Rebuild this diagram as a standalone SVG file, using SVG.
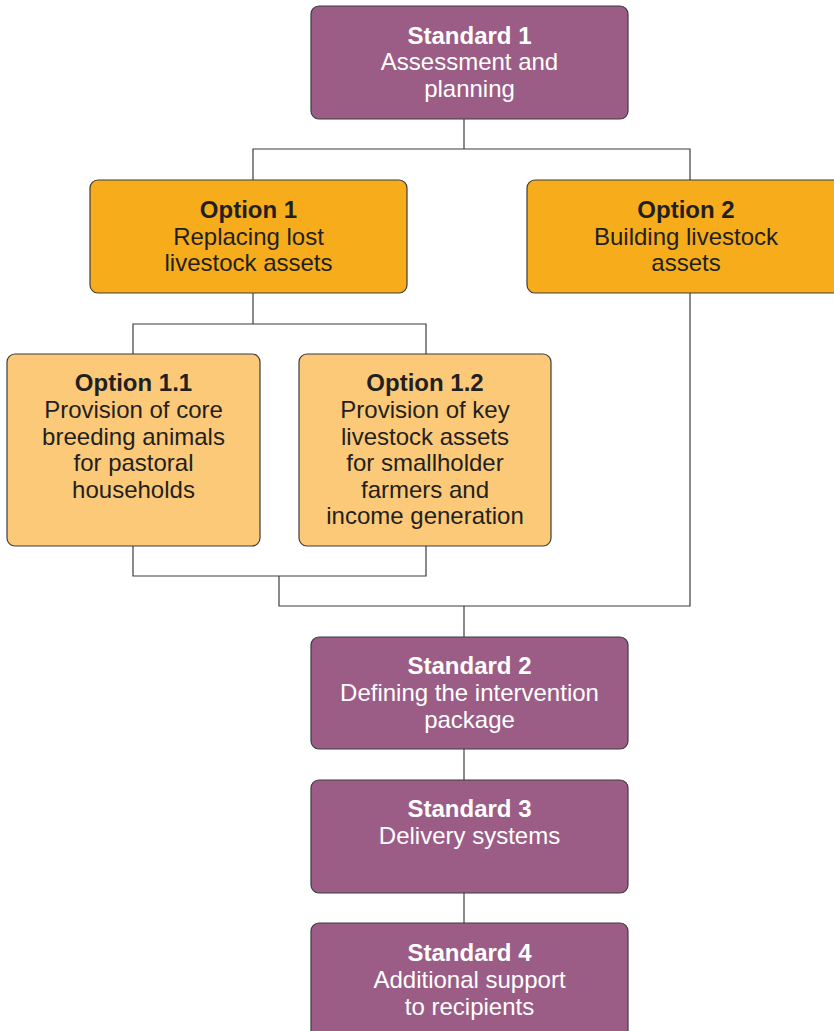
<svg xmlns="http://www.w3.org/2000/svg" width="834" height="1031" viewBox="0 0 834 1031">
<style>
.box{stroke:#3d3d3d;stroke-width:1.2}
.std{fill:#9b5d86}
.opt{fill:#f7ac1b}
.sub{fill:#fcc978}
text{font-size:24px;text-anchor:middle}
.w{fill:#ffffff}
.d{fill:#231f20}
.b{font-weight:bold}
.conn{fill:none;stroke:#3d3d3d;stroke-width:1.2}
</style>
<g id="connectors">
<polyline class="conn" points="464,119 464,149"/>
<polyline class="conn" points="253,180 253,149 690,149 690,180"/>
<polyline class="conn" points="253,293 253,324"/>
<polyline class="conn" points="133,354 133,324 426,324 426,354"/>
<polyline class="conn" points="133,546 133,576 426,576 426,546"/>
<polyline class="conn" points="279,576 279,606 690,606 690,293"/>
<polyline class="conn" points="464,606 464,637"/>
<polyline class="conn" points="464,749 464,780"/>
<polyline class="conn" points="464,893 464,923"/>
</g>
<g font-family="Liberation Sans, Arial, Helvetica, sans-serif">
<g id="standard1">
<rect class="box std" x="311" y="6" width="317" height="113" rx="8"/>
<text class="w b" x="469.5" y="44">Standard 1</text>
<text class="w" x="469.5" y="70">Assessment and</text>
<text class="w" x="469.5" y="97">planning</text>
</g>
<g id="option1">
<rect class="box opt" x="90" y="180" width="317" height="113" rx="8"/>
<text class="d b" x="248.5" y="218">Option 1</text>
<text class="d" x="248.5" y="245">Replacing lost</text>
<text class="d" x="248.5" y="271">livestock assets</text>
</g>
<g id="option2">
<rect class="box opt" x="527" y="180" width="320" height="113" rx="8"/>
<text class="d b" x="686" y="218">Option 2</text>
<text class="d" x="686" y="245">Building livestock</text>
<text class="d" x="686" y="271">assets</text>
</g>
<g id="option1_1">
<rect class="box sub" x="7" y="354" width="253" height="192" rx="8"/>
<text class="d b" x="133.5" y="391">Option 1.1</text>
<text class="d" x="133.5" y="418">Provision of core</text>
<text class="d" x="133.5" y="445">breeding animals</text>
<text class="d" x="133.5" y="471">for pastoral</text>
<text class="d" x="133.5" y="498">households</text>
</g>
<g id="option1_2">
<rect class="box sub" x="299" y="354" width="252" height="192" rx="8"/>
<text class="d b" x="425" y="391">Option 1.2</text>
<text class="d" x="425" y="418">Provision of key</text>
<text class="d" x="425" y="445">livestock assets</text>
<text class="d" x="425" y="471">for smallholder</text>
<text class="d" x="425" y="498">farmers and</text>
<text class="d" x="425" y="524">income generation</text>
</g>
<g id="standard2">
<rect class="box std" x="311" y="637" width="317" height="112" rx="8"/>
<text class="w b" x="469.5" y="674">Standard 2</text>
<text class="w" x="469.5" y="701">Defining the intervention</text>
<text class="w" x="469.5" y="728">package</text>
</g>
<g id="standard3">
<rect class="box std" x="311" y="780" width="317" height="113" rx="8"/>
<text class="w b" x="469.5" y="817">Standard 3</text>
<text class="w" x="469.5" y="844">Delivery systems</text>
</g>
<g id="standard4">
<rect class="box std" x="311" y="923" width="317" height="125" rx="8"/>
<text class="w b" x="469.5" y="961">Standard 4</text>
<text class="w" x="469.5" y="988">Additional support</text>
<text class="w" x="469.5" y="1015">to recipients</text>
</g>
</g>
</svg>
